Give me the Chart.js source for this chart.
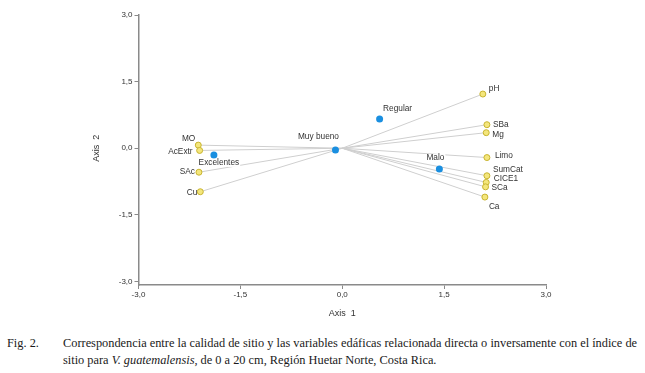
<!DOCTYPE html>
<html>
<head>
<meta charset="utf-8">
<script src="https://cdn.jsdelivr.net/npm/chart.js@4/dist/chart.umd.min.js"></script>
<style>
  html, body { margin: 0; padding: 0; background: #fff; }
  #wrap { position: relative; width: 645px; height: 373px; overflow: hidden; }
  #chart { position: absolute; left: 0; top: 0; }
  .cap { position: absolute; font-family: "Liberation Serif", "Times New Roman", serif; font-size: 12.35px; line-height: 16.5px; color: #1a1a1a; white-space: nowrap; }
</style>
</head>
<body>
<div id="wrap">
  <canvas id="chart" width="645" height="325"></canvas>
  <div class="cap" style="left:7px; top:335px;">Fig. 2.</div>
  <div class="cap" style="left:63px; top:335px;">Correspondencia entre la calidad de sitio y las variables edáficas relacionada directa o inversamente con el índice de<br>sitio para <i>V. guatemalensis</i>, de 0 a 20 cm, Región Huetar Norte, Costa Rica.</div>
</div>
<script>
// site quality classes (blue)
const siteNames = ['Excelentes', 'Muy bueno', 'Regular', 'Malo'];
const siteX = [-1.89, -0.10, 0.55, 1.43];
const siteY = [-0.15, -0.04, 0.66, -0.47];

// soil variables (yellow)
const varNames = ['MO', 'AcExtr', 'SAc', 'Cu', 'pH', 'SBa', 'Mg', 'Limo', 'SumCat', 'CICE1', 'SCa', 'Ca'];
const varX = [-2.12, -2.10, -2.11, -2.09, 2.07, 2.13, 2.12, 2.13, 2.13, 2.12, 2.11, 2.10];
const varY = [0.07, -0.05, -0.54, -0.98, 1.22, 0.53, 0.35, -0.21, -0.62, -0.77, -0.87, -1.10];

const axisTicks = [-3, -1.5, 0, 1.5, 3];

// label placement relative to the point, in px
const siteLabelPos = [[5, 8, 'center'], [-17, -13, 'center'], [18, -10, 'center'], [-4, -11, 'center']];
const varLabelPos = [
    [-3, -6, 'right'], [-7, 1.5, 'right'], [-4, 0, 'right'], [-3, 1, 'right'],
    [6, -5, 'left'], [6, 0, 'left'], [6, 2, 'left'], [8, -2, 'left'],
    [6, -6, 'left'], [7.5, -3.5, 'left'], [6, 1, 'left'], [4, 9.5, 'left']
];

const fmt = (v) => v.toFixed(1).replace('.', ',');
const FONT = '"Liberation Sans", Arial, sans-serif';

const lineSets = varNames.map((n, i) => ({
    type: 'line',
    label: 'l-' + n,
    data: [{ x: 0, y: 0 }, { x: varX[i], y: varY[i] }],
    borderColor: '#cfcfcf',
    borderWidth: 1,
    pointRadius: 0,
    order: 3
}));

const pointLabels = {
    id: 'pointLabels',
    afterDatasetsDraw(chart) {
        const ctx = chart.ctx;
        const xs = chart.scales.x, ys = chart.scales.y;
        ctx.save();
        ctx.font = '8.3px ' + FONT;
        ctx.textBaseline = 'middle';
        ctx.fillStyle = '#333';
        varNames.forEach((n, i) => {
            const [dx, dy, al] = varLabelPos[i];
            ctx.textAlign = al;
            ctx.fillText(n, xs.getPixelForValue(varX[i]) + dx, ys.getPixelForValue(varY[i]) + dy);
        });
        siteNames.forEach((n, i) => {
            const [dx, dy, al] = siteLabelPos[i];
            const px = xs.getPixelForValue(siteX[i]) + dx;
            const py = ys.getPixelForValue(siteY[i]) + dy;
            const w = ctx.measureText(n).width;
            ctx.fillStyle = '#fff';
            ctx.fillRect(px - w / 2 - 1, py - 4, w + 2, 8);
            ctx.fillStyle = '#333';
            ctx.textAlign = al;
            ctx.fillText(n, px, py);
        });
        // axis titles
        ctx.font = '9px ' + FONT;
        ctx.textAlign = 'center';
        ctx.fillText('Axis  1', xs.getPixelForValue(0), 314);
        ctx.translate(97, ys.getPixelForValue(0));
        ctx.rotate(-Math.PI / 2);
        ctx.fillText('Axis  2', 0, 0);
        ctx.restore();
    }
};

new Chart(document.getElementById('chart'), {
    type: 'scatter',
    data: {
        datasets: [
            ...lineSets,
            {
                label: 'vars',
                data: varX.map((x, i) => ({ x, y: varY[i] })),
                backgroundColor: '#f4e67c',
                borderColor: '#c8b430',
                borderWidth: 1,
                pointRadius: 3,
                order: 2
            },
            {
                label: 'sites',
                data: siteX.map((x, i) => ({ x, y: siteY[i] })),
                backgroundColor: '#1a8fe0',
                borderColor: '#1a8fe0',
                borderWidth: 0,
                pointRadius: 3.5,
                order: 1
            }
        ]
    },
    options: {
        responsive: false,
        animation: false,
        layout: { padding: { left: 0, top: 15, right: 99, bottom: 0 } },
        plugins: { legend: { display: false }, tooltip: { enabled: false } },
        scales: {
            x: {
                type: 'linear', min: -3, max: 3,
                afterBuildTicks: (s) => { s.ticks = axisTicks.map(v => ({ value: v })); },
                afterFit: (s) => { s.height = 40; },
                grid: { drawOnChartArea: false, drawTicks: true, tickLength: 4, color: '#8a8a8a', lineWidth: 1 },
                border: { display: true, color: '#8a8a8a', width: 1.5 },
                ticks: { font: { family: FONT, size: 8 }, color: '#333', padding: 1, maxRotation: 0, callback: fmt }
            },
            y: {
                type: 'linear', min: -3.08, max: 3,
                afterBuildTicks: (s) => { s.ticks = axisTicks.map(v => ({ value: v })); },
                afterFit: (s) => { s.width = 138.5; },
                grid: { drawOnChartArea: false, drawTicks: true, tickLength: 4, color: '#8a8a8a', lineWidth: 1 },
                border: { display: true, color: '#8a8a8a', width: 1.5 },
                ticks: { font: { family: FONT, size: 8 }, color: '#333', padding: 2, callback: fmt }
            }
        }
    },
    plugins: [pointLabels]
});
</script>
</body>
</html>
